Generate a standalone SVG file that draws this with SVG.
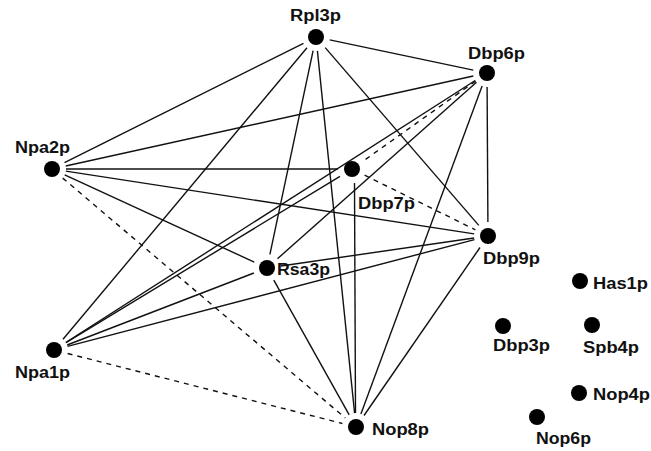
<svg xmlns="http://www.w3.org/2000/svg" width="651" height="451" viewBox="0 0 651 451">
<style>
.e{stroke:#111;stroke-width:1.4;fill:none}
.d{stroke:#111;stroke-width:1.4;fill:none;stroke-dasharray:5 5}
.n{fill:#000}
.t{font-family:"Liberation Sans",Arial,sans-serif;font-weight:bold;font-size:16px;fill:#111}
</style>
<rect width="651" height="451" fill="#fff"/>
<g id="connectors">
<line class="e" x1="329.7" y1="39.9" x2="473.3" y2="70.1"/>
<line class="e" x1="303.5" y1="43.3" x2="64.5" y2="162.7"/>
<line class="e" x1="307.0" y1="47.7" x2="63.0" y2="339.3"/>
<line class="e" x1="313.1" y1="50.7" x2="269.9" y2="254.3"/>
<line class="e" x1="317.4" y1="50.9" x2="354.6" y2="413.1"/>
<line class="e" x1="325.2" y1="47.6" x2="478.8" y2="225.4"/>
<line class="e" x1="473.3" y1="76.0" x2="65.7" y2="166.0"/>
<line class="e" x1="475.2" y1="80.5" x2="65.8" y2="342.5"/>
<line class="e" x1="476.5" y1="82.3" x2="277.5" y2="258.7"/>
<line class="e" x1="482.1" y1="86.1" x2="360.9" y2="413.9"/>
<line class="e" x1="487.1" y1="87" x2="487.9" y2="222"/>
<line class="e" x1="66" y1="169" x2="338" y2="169"/>
<line class="e" x1="65.8" y1="171.1" x2="474.2" y2="233.9"/>
<line class="e" x1="64.7" y1="174.9" x2="254.3" y2="262.1"/>
<line class="e" x1="66.0" y1="342.7" x2="340.0" y2="176.3"/>
<line class="e" x1="67.1" y1="345.0" x2="253.9" y2="273.0"/>
<line class="e" x1="67.5" y1="346.4" x2="474.5" y2="239.6"/>
<line class="e" x1="354.5" y1="183" x2="355.5" y2="413"/>
<line class="e" x1="280.9" y1="266.0" x2="474.1" y2="238.0"/>
<line class="e" x1="273.8" y1="280.2" x2="349.2" y2="414.8"/>
<line class="e" x1="480.0" y1="247.5" x2="364.0" y2="415.5"/>
<line class="d" x1="475.6" y1="81.1" x2="363.4" y2="160.9"/>
<line class="d" x1="364.6" y1="175.2" x2="475.4" y2="229.8"/>
<line class="d" x1="62.7" y1="178.1" x2="345.3" y2="418.0"/>
<line class="d" x1="67.6" y1="353.5" x2="342.4" y2="423.5"/>
</g>
<g id="Rpl3p"><circle class="n" cx="316" cy="37" r="8"/><text class="t" x="290" y="21" textLength="51" lengthAdjust="spacingAndGlyphs">Rpl3p</text></g>
<g id="Dbp6p"><circle class="n" cx="487" cy="73" r="8"/><text class="t" x="468" y="59" textLength="57" lengthAdjust="spacingAndGlyphs">Dbp6p</text></g>
<g id="Npa2p"><circle class="n" cx="52" cy="169" r="8"/><text class="t" x="15" y="153" textLength="55" lengthAdjust="spacingAndGlyphs">Npa2p</text></g>
<g id="Dbp7p"><circle class="n" cx="352" cy="169" r="8"/><text class="t" x="358" y="209" textLength="57" lengthAdjust="spacingAndGlyphs">Dbp7p</text></g>
<g id="Dbp9p"><circle class="n" cx="488" cy="236" r="8"/><text class="t" x="483" y="264" textLength="57" lengthAdjust="spacingAndGlyphs">Dbp9p</text></g>
<g id="Rsa3p"><circle class="n" cx="267" cy="268" r="8"/><text class="t" x="277" y="275" textLength="53" lengthAdjust="spacingAndGlyphs">Rsa3p</text></g>
<g id="Npa1p"><circle class="n" cx="54" cy="350" r="8"/><text class="t" x="15" y="378" textLength="55" lengthAdjust="spacingAndGlyphs">Npa1p</text></g>
<g id="Nop8p"><circle class="n" cx="356" cy="427" r="8"/><text class="t" x="372" y="435" textLength="57" lengthAdjust="spacingAndGlyphs">Nop8p</text></g>
<g id="Has1p"><circle class="n" cx="580" cy="281" r="8"/><text class="t" x="593" y="289" textLength="55" lengthAdjust="spacingAndGlyphs">Has1p</text></g>
<g id="Dbp3p"><circle class="n" cx="503" cy="326" r="8"/><text class="t" x="493" y="351" textLength="57" lengthAdjust="spacingAndGlyphs">Dbp3p</text></g>
<g id="Spb4p"><circle class="n" cx="592" cy="325" r="8"/><text class="t" x="583" y="353" textLength="56" lengthAdjust="spacingAndGlyphs">Spb4p</text></g>
<g id="Nop4p"><circle class="n" cx="579" cy="393" r="8"/><text class="t" x="593" y="400" textLength="57" lengthAdjust="spacingAndGlyphs">Nop4p</text></g>
<g id="Nop6p"><circle class="n" cx="537" cy="417" r="8"/><text class="t" x="536" y="444" textLength="55" lengthAdjust="spacingAndGlyphs">Nop6p</text></g>
</svg>
